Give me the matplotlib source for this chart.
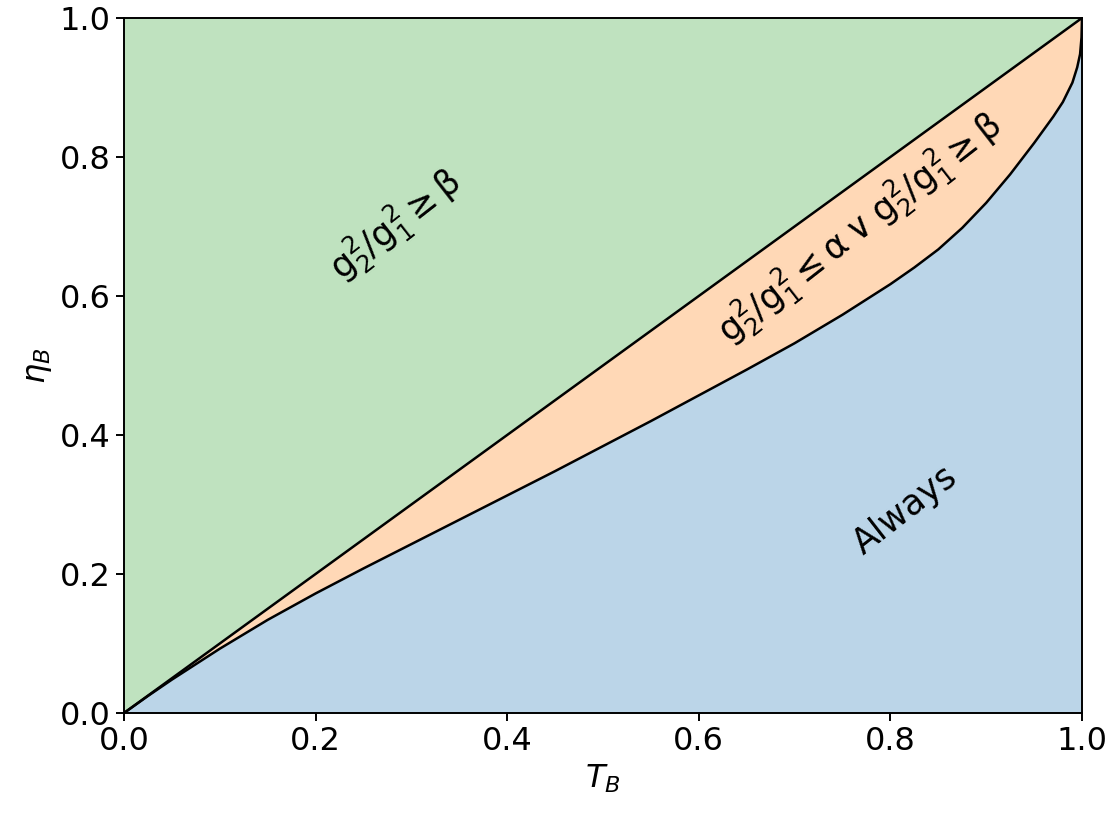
import matplotlib
matplotlib.use("Agg")
import matplotlib.pyplot as plt
import numpy as np

# boundary between "Always" and the middle region
t_lower = [0.0, 0.025, 0.05, 0.1, 0.15, 0.2, 0.25, 0.3, 0.35, 0.4, 0.45, 0.5,
           0.55, 0.6, 0.65, 0.7, 0.75, 0.8, 0.825, 0.85, 0.875, 0.9, 0.925, 0.95,
           0.97, 0.98, 0.99, 0.995, 0.998, 0.9995, 1.0]
eta_lower = [0.0, 0.0245, 0.048, 0.0925, 0.134, 0.172, 0.208, 0.243, 0.278, 0.313, 0.348, 0.384,
             0.42, 0.457, 0.494, 0.532, 0.573, 0.617, 0.641, 0.667, 0.698, 0.734, 0.775, 0.82,
             0.858, 0.879, 0.907, 0.929, 0.948, 0.972, 1.0]

# upper boundary is eta = T
t_upper = [0.0, 1.0]
eta_upper = [0.0, 1.0]

label_top = r"$\mathregular{g_2^2/g_1^2 \geq \beta}$"
label_mid = r"$\mathregular{g_2^2/g_1^2 \leq \alpha \vee g_2^2/g_1^2 \geq \beta}$"
label_low = "Always"

plt.rcParams["font.size"] = 23

fig = plt.figure(figsize=(11.15, 8.13), dpi=100)
ax = fig.add_axes([0.1112, 0.123, 0.8592, 0.8549])

t = np.array(t_lower)
up = np.interp(t, t_upper, eta_upper)

ax.fill_between(t_upper, eta_upper, 1, color="tab:green", alpha=0.3, lw=0)
ax.fill_between(t, eta_lower, up, color="tab:orange", alpha=0.3, lw=0)
ax.fill_between(t, 0, eta_lower, color="tab:blue", alpha=0.3, lw=0)
ax.plot(t_upper, eta_upper, color="black", lw=1.8)
ax.plot(t_lower, eta_lower, color="black", lw=1.8)

ax.text(0.283, 0.702, label_top, rotation=38, ha="center", va="center", fontsize=25)
ax.text(0.768, 0.697, label_mid, rotation=38, ha="center", va="center", fontsize=25)
ax.text(0.815, 0.292, label_low, rotation=38, ha="center", va="center", fontsize=25)

ax.set_xlim(0, 1)
ax.set_ylim(0, 1)
ax.set_xlabel(r"$T_B$")
ax.set_ylabel(r"$\eta_B$")
for s in ax.spines.values():
    s.set_linewidth(1.4)
ax.tick_params(width=1.4, length=6)

plt.savefig("out.png", dpi=100)
